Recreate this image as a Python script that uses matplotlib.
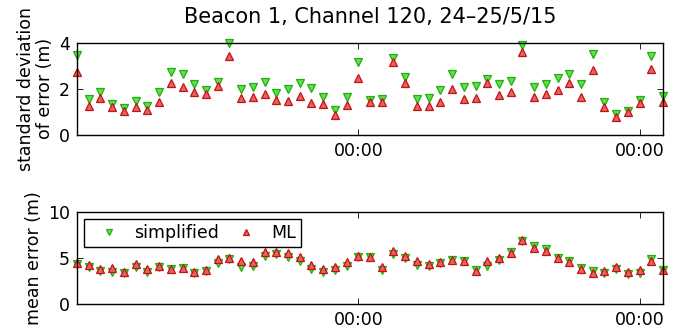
import numpy as np
import matplotlib
matplotlib.use('Agg')
import matplotlib.pyplot as plt

plt.rcParams['font.family'] = ['DejaVu Sans']

# hourly samples, 00:00 ticks at index 24 and 48
hours = np.arange(51)
tick_pos = [24, 48]
tick_labels = ['00:00', '00:00']

std_simplified = [3.47, 1.57, 1.86, 1.35, 1.19, 1.48, 1.24, 1.86, 2.75, 2.63,
                  2.22, 1.96, 2.29, 4.00, 1.99, 2.07, 2.29, 1.81, 1.99, 2.27,
                  2.04, 1.64, 1.09, 1.65, 3.15, 1.52, 1.55, 3.32, 2.53, 1.57,
                  1.60, 1.96, 2.65, 2.10, 2.14, 2.43, 2.22, 2.32, 3.90, 2.07,
                  2.22, 2.49, 2.63, 2.20, 3.51, 1.41, 0.91, 1.02, 1.50, 3.42,
                  1.70]
std_ml = [2.75, 1.24, 1.60, 1.21, 1.05, 1.22, 1.09, 1.44, 2.27, 2.07,
          1.86, 1.77, 2.13, 3.42, 1.61, 1.63, 1.77, 1.50, 1.47, 1.67,
          1.38, 1.34, 0.86, 1.31, 2.49, 1.41, 1.45, 3.15, 2.24, 1.27,
          1.24, 1.45, 2.00, 1.57, 1.60, 2.27, 1.74, 1.87, 3.61, 1.64,
          1.78, 1.93, 2.24, 1.65, 2.82, 1.21, 0.76, 0.98, 1.38, 2.86,
          1.41]

mean_simplified = [4.38, 4.02, 3.62, 3.55, 3.37, 4.09, 3.55, 4.02, 3.84, 3.91,
                   3.37, 3.62, 4.46, 4.93, 4.02, 4.17, 5.29, 5.47, 5.18, 4.71,
                   3.84, 3.48, 3.73, 4.17, 5.18, 5.12, 3.73, 5.47, 5.04, 4.31,
                   4.20, 4.49, 4.86, 4.75, 3.73, 4.17, 4.82, 5.72, 6.88, 6.34,
                   5.98, 5.07, 4.71, 3.91, 3.62, 3.44, 3.80, 3.26, 3.44, 4.89,
                   3.73]
mean_ml = [4.46, 4.28, 3.84, 3.91, 3.55, 4.38, 3.84, 4.17, 3.84, 3.99,
           3.55, 3.73, 4.93, 5.00, 4.71, 4.64, 5.72, 5.65, 5.54, 5.18,
           4.28, 3.80, 4.02, 4.57, 5.25, 5.18, 4.02, 5.76, 5.22, 4.67,
           4.42, 4.60, 4.78, 4.75, 3.62, 4.71, 5.00, 5.62, 6.99, 6.16,
           5.80, 5.00, 4.64, 3.84, 3.44, 3.62, 4.02, 3.48, 3.73, 4.75,
           3.73]

green_face = '#66dc50'
green_edge = '#1fb010'
red_face = '#e06464'
red_edge = '#c81010'

fig = plt.figure(figsize=(6.89, 3.35), dpi=100)
ax1 = fig.add_axes([0.1118, 0.597, 0.8505, 0.2755])
ax2 = fig.add_axes([0.1118, 0.0916, 0.8505, 0.2746])

for ax, simp, ml in [(ax1, std_simplified, std_ml), (ax2, mean_simplified, mean_ml)]:
    ax.plot(hours, simp, linestyle='none', marker='v', markersize=6.2,
            markerfacecolor=green_face, markeredgecolor=green_edge,
            markeredgewidth=0.9, label='simplified', clip_on=False)
    ax.plot(hours, ml, linestyle='none', marker='^', markersize=6.2,
            markerfacecolor=red_face, markeredgecolor=red_edge,
            markeredgewidth=0.9, label='ML', clip_on=False)
    ax.set_xlim(0, 50)
    ax.set_xticks(tick_pos)
    ax.set_xticklabels(tick_labels)
    ax.tick_params(direction='in', top=True, right=True, length=4,
                   width=0.6, labelsize=12.5, pad=5)
    for s in ax.spines.values():
        s.set_linewidth(1.0)

ax1.set_ylim(0, 4)
ax1.set_yticks([0, 2, 4])
ax1.set_ylabel('standard deviation\nof error (m)', fontsize=12.5, labelpad=4,
               linespacing=1.05)
ax1.set_title('Beacon 1, Channel 120, 24\u201325/5/15', fontsize=15, pad=14)

ax2.set_ylim(0, 10)
ax2.set_yticks([0, 5, 10])
ax2.set_ylabel('mean error (m)', fontsize=12.5, labelpad=4)
leg = ax2.legend(loc='upper left', ncol=2, fontsize=12.5, frameon=True,
                 fancybox=False, edgecolor='black', framealpha=1,
                 borderpad=0.3, handletextpad=0.3, columnspacing=0.4,
                 borderaxespad=0.38, handlelength=2.3, markerscale=0.6)
leg.get_frame().set_linewidth(1.0)

fig.savefig('out.png', dpi=100)
